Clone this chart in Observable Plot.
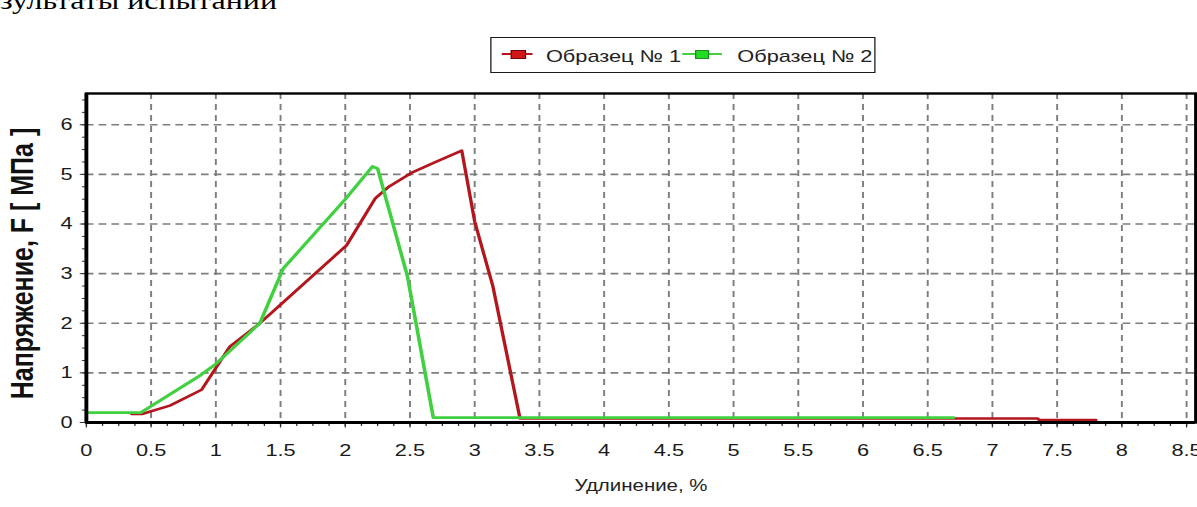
<!DOCTYPE html>
<html>
<head>
<meta charset="utf-8">
<script src="https://cdn.jsdelivr.net/npm/d3@7"></script>
<script src="https://cdn.jsdelivr.net/npm/@observablehq/plot@0.6"></script>
<style>
  html, body { margin: 0; padding: 0; background: #fff; }
  body { width: 1197px; height: 507px; overflow: hidden; position: relative; }
  #wrap { position: absolute; left: 0; top: 0; width: 935px; height: 507px; transform: scaleX(1.28); transform-origin: 0 0; }
  #title { position: absolute; left: 0; top: -12px; font: 25px/25px "Liberation Serif", serif; color: #000; white-space: nowrap; }
  #legend { position: absolute; left: 382.8px; top: 36.5px; width: 300.8px; height: 36px; box-sizing: border-box; border: 1.6px solid #1a1a1a; background: #fff; }
  .lg-line { position: absolute; height: 2px; }
  .lg-box { position: absolute; height: 9px; box-sizing: border-box; }
  .lg-text { position: absolute; font: 17px/17px "Liberation Sans", Arial, sans-serif; color: #222; white-space: nowrap; }
  #chart { position: absolute; left: 0; top: 0; }
</style>
</head>
<body>
<div id="wrap">
  <div id="chart"></div>
  <div id="title">зультаты испытаний</div>
  <div id="legend"></div>
</div>
<script>
// ---- data ----
const seriesNames = ["Образец № 1", "Образец № 2"];
const seriesColors = ["#b3161d", "#40d040"];

const redX = [0.35, 0.43, 0.645, 0.89, 1.108, 1.34, 1.494, 2.01, 2.23, 2.33, 2.51, 2.70, 2.90, 3.0, 3.14, 3.35, 7.35, 7.36, 7.8];
const redY = [0.17, 0.17, 0.34, 0.66, 1.53, 2.0, 2.36, 3.57, 4.51, 4.74, 5.03, 5.25, 5.48, 4.05, 2.75, 0.08, 0.08, 0.05, 0.05];

const greenX = [0, 0.42, 0.88, 1.0, 1.34, 1.52, 2.0, 2.21, 2.25, 2.48, 2.68, 6.7];
const greenY = [0.2, 0.2, 0.95, 1.18, 2.0, 3.1, 4.5, 5.16, 5.12, 2.95, 0.1, 0.1];

const xTicks = [0, 0.5, 1, 1.5, 2, 2.5, 3, 3.5, 4, 4.5, 5, 5.5, 6, 6.5, 7, 7.5, 8, 8.5];
const yTicks = [0, 1, 2, 3, 4, 5, 6];
const xLabel = "Удлинение, %";
const yLabel = "Напряжение, F [ МПа ]";

// ---- build ----
const red = redX.map((x, i) => ({x, y: redY[i]}));
const green = greenX.map((x, i) => ({x, y: greenY[i]}));
const xMinor = d3.range(0, 8.57, 0.125);
const yMinor = d3.range(0, 6.63, 0.25);

const chart = Plot.plot({
  width: 935,
  height: 507,
  marginLeft: 67,
  marginRight: 1.4,
  marginTop: 93,
  marginBottom: 85,
  x: {domain: [0, 8.57]},
  y: {domain: [0, 6.63]},
  style: {fontFamily: "Liberation Sans, Arial, sans-serif", fontSize: "17px", color: "#1a1a1a", background: "transparent", overflow: "visible"},
  marks: [
    Plot.gridX(xTicks.filter(d => d > 0), {stroke: "#7d7d7d", strokeOpacity: 1, strokeWidth: 1.5, strokeDasharray: "6,5"}),
    Plot.gridY(yTicks.filter(d => d > 0), {stroke: "#7d7d7d", strokeOpacity: 1, strokeWidth: 1.6, strokeDasharray: "6,4"}),
    Plot.line(red, {x: "x", y: "y", stroke: seriesColors[0], strokeWidth: 2.6}),
    Plot.line(green, {x: "x", y: "y", stroke: seriesColors[1], strokeWidth: 2.8}),
    Plot.axisX(xMinor, {tickSize: 4, tickFormat: () => "", label: null, stroke: "#333"}),
    Plot.axisX(xTicks, {tickSize: 5.5, tickPadding: 16, fontSize: 17, tickFormat: d => String(d), label: null, stroke: "#333"}),
    Plot.axisY(yMinor, {tickSize: 3, tickFormat: () => "", label: null, stroke: "#333"}),
    Plot.axisY(yTicks, {tickSize: 4.7, tickPadding: 6, fontSize: 17, tickFormat: d => String(d), label: null, stroke: "#333"}),
    Plot.ruleX([0], {stroke: "#000", strokeWidth: 3}),
    Plot.ruleY([0], {stroke: "#000", strokeWidth: 3}),
    Plot.frame({stroke: "#000", strokeWidth: 2.4}),
    Plot.text([xLabel], {text: d => d, frameAnchor: "bottom", dy: 68, fontSize: 16, fill: "#222"}),
    Plot.text([yLabel], {text: d => d, frameAnchor: "left", textAnchor: "middle", rotate: -90, dx: -50, dy: 5.5, fontSize: 25, fontWeight: "bold", fill: "#111"})
  ]
});
document.getElementById("chart").appendChild(chart);

// ---- legend ----
const legend = document.getElementById("legend");
const lgItems = [
  {line: [393 - 382.8, 23.4], box: [400 - 382.8, 11.7], text: 427.1 - 382.8},
  {line: [533.6 - 382.8, 31.2], box: [543.4 - 382.8, 11.7], text: 576.6 - 382.8}
];
const darker = [ "#6e0a0e", "#1f8a1f" ];
const boxFill = [ "#d01818", "#22dd22" ];
lgItems.forEach((it, i) => {
  const ln = document.createElement("div");
  ln.className = "lg-line";
  ln.style.left = (it.line[0] - 1.6) + "px";
  ln.style.width = it.line[1] + "px";
  ln.style.top = (55 - 36.5 - 1.6 - 1) + "px";
  ln.style.background = seriesColors[i];
  legend.appendChild(ln);
  const bx = document.createElement("div");
  bx.className = "lg-box";
  bx.style.left = (it.box[0] - 1.6) + "px";
  bx.style.width = it.box[1] + "px";
  bx.style.top = (55 - 36.5 - 1.6 - 4.5) + "px";
  bx.style.background = boxFill[i];
  bx.style.border = "1px solid " + darker[i];
  legend.appendChild(bx);
  const tx = document.createElement("div");
  tx.className = "lg-text";
  tx.style.left = (it.text - 1.6) + "px";
  tx.style.top = (48.6 - 36.5 - 1.6) + "px";
  tx.textContent = seriesNames[i];
  legend.appendChild(tx);
});
</script>
</body>
</html>
